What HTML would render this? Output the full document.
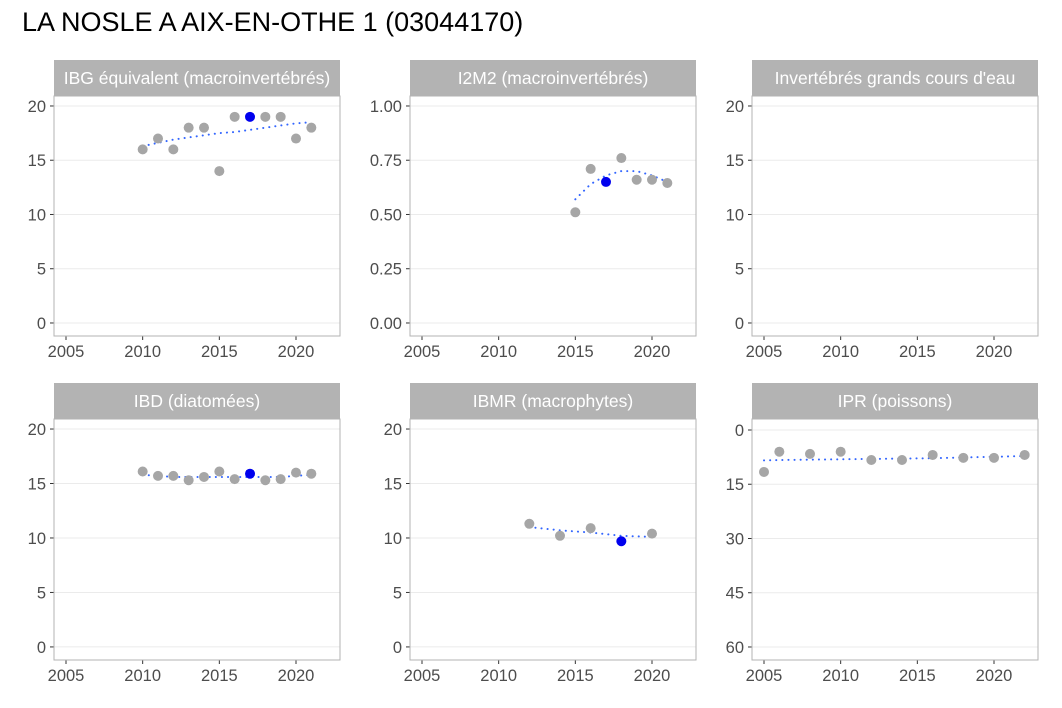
<!DOCTYPE html>
<html><head><meta charset="utf-8"><style>
body{margin:0;background:#fff;font-family:"Liberation Sans",sans-serif}
svg{display:block}
</style></head><body>
<svg id="c" width="1062" height="708" xmlns="http://www.w3.org/2000/svg">
<text x="22" y="31" font-size="27" fill="#000">LA NOSLE A AIX-EN-OTHE 1 (03044170)</text>
</svg>
<script>
const titles=["IBG équivalent (macroinvertébrés)","I2M2 (macroinvertébrés)","Invertébrés grands cours d'eau","IBD (diatomées)","IBMR (macrophytes)","IPR (poissons)"];
const xTicks=[2005,2010,2015,2020];
const yTicks1=[0,5,10,15,20];
const yTicks2=[0,0.25,0.5,0.75,1];
const yTicksIPR=[0,15,30,45,60];
const ibgYears=[2010,2011,2012,2013,2014,2015,2016,2017,2018,2019,2020,2021];
const ibgVals=[16,17,16,18,18,14,19,19,19,19,17,18];
const ibgTrend=[16.3,16.6,16.9,17.1,17.3,17.5,17.6,17.8,18.0,18.2,18.4,18.5];
const i2Years=[2015,2016,2017,2018,2019,2020,2021];
const i2Vals=[0.51,0.71,0.65,0.76,0.66,0.66,0.645];
const i2Trend=[0.57,0.64,0.68,0.70,0.70,0.68,0.65];
const ibdYears=[2010,2011,2012,2013,2014,2015,2016,2017,2018,2019,2020,2021];
const ibdVals=[16.1,15.7,15.7,15.3,15.6,16.1,15.4,15.9,15.3,15.4,16.0,15.9];
const ibdTrend=[15.8,15.7,15.6,15.6,15.6,15.6,15.6,15.6,15.6,15.6,15.7,15.8];
const ibmrYears=[2012,2014,2016,2018,2020];
const ibmrVals=[11.3,10.2,10.9,9.7,10.4];
const ibmrTrend=[11.0,10.7,10.5,10.2,10.1];
const iprYears=[2005,2006,2008,2010,2012,2014,2016,2018,2020,2022];
const iprVals=[11.6,6,6.6,6,8.3,8.3,6.9,7.7,7.7,6.9];
const iprTrend=[8.4,8.3,8.2,8.1,8.0,7.9,7.8,7.6,7.4,7.2];
const highlightYear=[2017,2017,null,2017,2018,null];

const svg=document.getElementById('c');
const NS="http://www.w3.org/2000/svg";
function mk(tag,attrs,parent){const e=document.createElementNS(NS,tag);for(const k in attrs)e.setAttribute(k,attrs[k]);(parent||svg).appendChild(e);return e;}

const cols=[54,410,752], W=286;
const rows=[{st:60,pt:96,pb:336},{st:383,pt:419,pb:660}];
const panels=[
 {ticks:yTicks1,fmt:v=>v,min:-1.2,max:20.92,rev:false,ys:ibgYears,vs:ibgVals,tr:ibgTrend},
 {ticks:yTicks2,fmt:v=>v.toFixed(2),min:-0.06,max:1.046,rev:false,ys:i2Years,vs:i2Vals,tr:i2Trend},
 {ticks:yTicks1,fmt:v=>v,min:-1.2,max:20.92,rev:false,ys:[],vs:[],tr:[]},
 {ticks:yTicks1,fmt:v=>v,min:-1.2,max:20.92,rev:false,ys:ibdYears,vs:ibdVals,tr:ibdTrend},
 {ticks:yTicks1,fmt:v=>v,min:-1.2,max:20.92,rev:false,ys:ibmrYears,vs:ibmrVals,tr:ibmrTrend},
 {ticks:yTicksIPR,fmt:v=>v,min:-3.04,max:63.6,rev:true,ys:iprYears,vs:iprVals,tr:iprTrend}
];
panels.forEach((p,i)=>{
 const x0=cols[i%3], r=rows[Math.floor(i/3)];
 const g=mk('g',{});
 
 
 const xs=v=>x0+12+(v-2005)*(230/15);
 const yr=r.pb-r.pt;
 const ys=v=>p.rev? r.pt+(v-p.min)/(p.max-p.min)*yr : r.pb-(v-p.min)/(p.max-p.min)*yr;
 const strip=mk('rect',{x:x0,y:r.st,width:W,height:r.pt-r.st,fill:'#b3b3b3'},g);
 
 const st=mk('text',{x:x0+W/2,y:r.st+24,'text-anchor':'middle','font-size':17.5,fill:'#fff'},g);
 st.textContent=titles[i];
 
 p.ticks.forEach(t=>{
  const y=ys(t);
  const gl=mk('line',{x1:x0,x2:x0+W,y1:y,y2:y,stroke:'#ebebeb','stroke-width':1},g);
  
  mk('line',{x1:x0-4,x2:x0,y1:y,y2:y,stroke:'#333','stroke-width':1},g);
  const tl=mk('text',{x:x0-8,y:y+6,'text-anchor':'end','font-size':16.5,fill:'#4d4d4d'},g);
  tl.textContent=p.fmt(t);
  
 });
 xTicks.forEach(t=>{
  const x=xs(t);
  mk('line',{x1:x,x2:x,y1:r.pb,y2:r.pb+4,stroke:'#333','stroke-width':1},g);
  const tl=mk('text',{x:x,y:r.pb+21,'text-anchor':'middle','font-size':16.5,fill:'#4d4d4d'},g);
  tl.textContent=t;
  
 });
 const fr=mk('rect',{x:x0,y:r.pt,width:W,height:yr,fill:'none',stroke:'#b3b3b3','stroke-width':1},g);
 
 if(p.tr.length){
  const pts=p.ys.map((yy,k)=>xs(yy)+','+ys(p.tr[k])).join(' ');
  const pl=mk('polyline',{points:pts,fill:'none',stroke:'#3366ff','stroke-width':2,'stroke-dasharray':'0.1 6','stroke-linecap':'round'},g);
  
 }
 p.ys.forEach((yy,k)=>{
  const hl=yy===highlightYear[i];
  const c=mk('circle',{cx:xs(yy),cy:ys(p.vs[k]),r:5,fill:hl?'#0000ee':'#a6a6a6'},g);
  
  
 });
});
</script>
</body></html>
